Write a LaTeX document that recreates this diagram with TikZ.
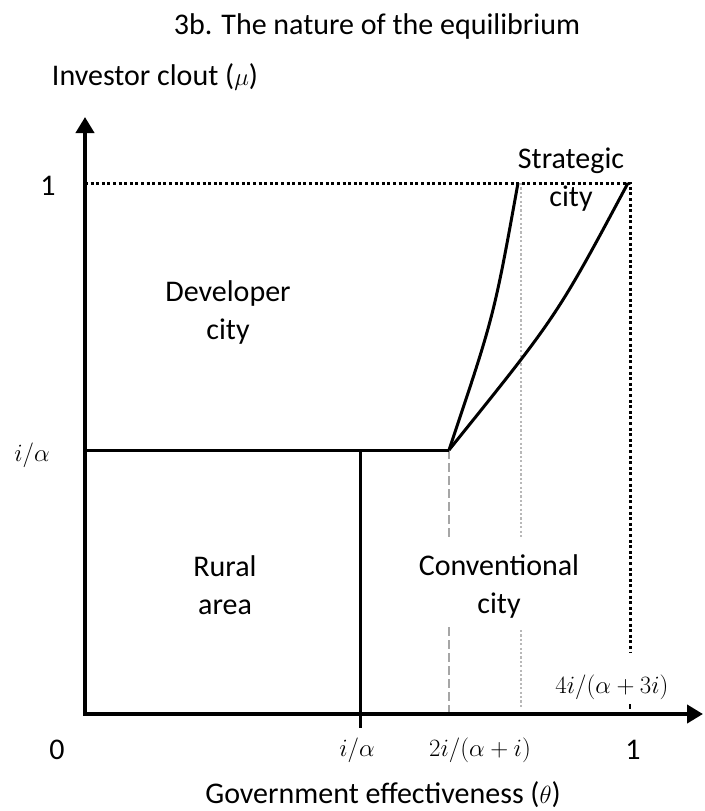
\documentclass[tikz,border=0pt]{standalone}
\usepackage{fontspec}
\setmainfont{Carlito}
\usetikzlibrary{arrows.meta}
\begin{document}
\begin{tikzpicture}[x=1pt,y=-1pt,
  lbl/.style={font=\fontsize{30}{38}\selectfont, align=center, inner sep=0pt},
  mlbl/.style={font=\fontsize{31}{36}\selectfont, inner sep=0pt},
  axis/.style={line width=4.4pt, -{Triangle[length=16pt,width=18pt]}},
  solid line/.style={line width=3pt},
  gdash/.style={line width=2.4pt, black!35, dash pattern=on 9pt off 4pt},
  gdot/.style={line width=2.2pt, black!28, dash pattern=on 2.2pt off 2.2pt},
  bdot/.style={line width=3pt, black, dash pattern=on 3pt off 2.6pt}]
\useasboundingbox (0,0) rectangle (704,811);
% key coordinates
\coordinate (O) at (85,714);
\coordinate (ytop) at (85,117);
\coordinate (xstart) at (83,714);
\coordinate (xend) at (703,714);
\coordinate (Y1) at (85,183);
\coordinate (Yia) at (85,450);
\coordinate (K) at (449,450);
\coordinate (T1) at (518,183);
\coordinate (T2) at (628,183);
\coordinate (Via) at (360,450);
\coordinate (Viab) at (360,728);
\coordinate (Kb1) at (449,537);
\coordinate (Kb2) at (449,627);
\coordinate (Kb3) at (449,714);
\coordinate (G1) at (521,183);
\coordinate (G2) at (521,537);
\coordinate (G3) at (521,630);
\coordinate (G4) at (521,708);
\coordinate (B0) at (630,183);
\coordinate (B1) at (630,653);
\coordinate (B2) at (630,704);
\coordinate (B3) at (630,709);
% dotted guides
\draw[bdot] (Y1) -- (B0) -- (B1);
\draw[line width=2.6pt] (B2) -- (B3);
\draw[gdot] (G1) -- (G2);
\draw[gdot] (G3) -- (G4);
\draw[gdash] (K) -- (Kb1);
\draw[gdash] (Kb2) -- (Kb3);
% boundaries
\draw[solid line] (Yia) -- (K);
\draw[solid line] (Via) -- (Viab);
\draw[solid line, line join=round] (K) .. controls (494,316) .. (T1);
\draw[solid line, line join=round] (K) .. controls (557,316) .. (T2);
% axes
\draw[axis] (xstart) -- (xend);
\draw[axis] (O) -- (ytop);
% texts
\node[lbl] (title) at (377,27) {3b. The nature of the equilibrium};
\node[lbl] (ylab) at (155,77) {Investor clout ($\mu$)};
\node[lbl] (xlab) at (383,795) {Government effectiveness ($\theta$)};
\node[lbl] (one-y) at (48,186) {1};
\node[mlbl] (ia-y) at (32,455) {$i/\alpha$};
\node[lbl] (zero) at (57,750) {0};
\node[mlbl] (ia-x) at (357,750) {$i/\alpha$};
\node[mlbl] (tia-x) at (480,750) {$2i/(\alpha+i)$};
\node[lbl] (one-x) at (633,750) {1};
\node[mlbl] (fia) at (612,687) {$4i/(\alpha+3i)$};
\node[lbl] (dev) at (228,312) {Developer\\city};
\node[lbl] (rural) at (225,585) {Rural\\area};
\node[lbl] (conv) at (499,586) {Conventional\\city};
\node[lbl] (strat) at (571,180) {Strategic\\city};
\end{tikzpicture}
\end{document}
